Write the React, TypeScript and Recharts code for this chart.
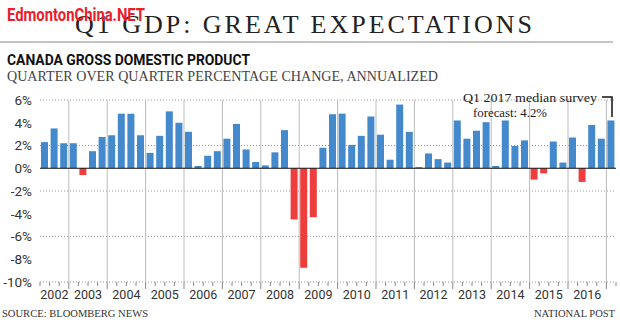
import React from 'react';
import { BarChart, Bar, XAxis, YAxis, CartesianGrid, ReferenceLine, Cell } from 'recharts';

// quarters shown, 2002 Q2 .. 2017 Q1
const years = [2002, 2003, 2004, 2005, 2006, 2007, 2008, 2009, 2010, 2011, 2012, 2013, 2014, 2015, 2016, 2017];
const quartersPerYear = [[2, 3, 4], [1, 2, 3, 4], [1, 2, 3, 4], [1, 2, 3, 4], [1, 2, 3, 4], [1, 2, 3, 4], [1, 2, 3, 4], [1, 2, 3, 4],
  [1, 2, 3, 4], [1, 2, 3, 4], [1, 2, 3, 4], [1, 2, 3, 4], [1, 2, 3, 4], [1, 2, 3, 4], [1, 2, 3, 4], [1]];

// annualized q/q % change
const gdpChange = [
  2.3, 3.5, 2.2,
  2.2, -0.6, 1.5, 2.75,
  2.9, 4.8, 4.8, 2.9,
  1.35, 2.85, 5.0, 4.0,
  3.2, 0.2, 1.1, 1.5,
  2.6, 3.9, 1.65, 0.55,
  0.25, 1.4, 3.35, -4.5,
  -8.75, -4.3, 1.8, 4.75,
  4.8, 2.05, 2.85, 4.55,
  2.95, 0.75, 5.6, 3.2,
  0.1, 1.3, 0.8, 0.5,
  4.2, 2.6, 3.3, 4.05,
  0.2, 4.2, 1.95, 2.45,
  -1.0, -0.45, 2.35, 0.5,
  2.7, -1.2, 3.8, 2.6,
  4.2,
];

const yTicks = [-10, -8, -6, -4, -2, 0, 2, 4, 6];

const data: { label: string; year: number; q: number; value: number }[] = [];
years.forEach((y, yi) => {
  quartersPerYear[yi].forEach((q) => {
    data.push({ label: `${y} Q${q}`, year: y, q, value: gdpChange[data.length] });
  });
});

const W = 620;
const H = 327;
const LEFT = 40;
const RIGHT = 4;
const PLOT_W = W - LEFT - RIGHT;
const BAND = PLOT_W / data.length;
const BLUE = '#4389cc';
const RED = '#ee3d3d';
const SANS = '"Liberation Sans Narrow", Roboto, "Liberation Sans", sans-serif';
const SERIF = '"Liberation Serif", "DejaVu Serif", serif';

const YearTick = (props: any) => {
  const { x, y, payload } = props;
  const i = payload.index;
  const d = data[i];
  const left = x - BAND / 2;
  const count = data.filter((e) => e.year === d.year).length;
  const first = data.findIndex((e) => e.year === d.year) === i;
  return (
    <g>
      <line x1={left} x2={left} y1={y} y2={y + (d.q === 1 ? 7 : 4)} stroke="#888" strokeWidth={1} />
      {i === data.length - 1 && <line x1={x + BAND / 2} x2={x + BAND / 2} y1={y} y2={y + 4} stroke="#888" />}
      {first && count > 1 && (
        <text x={x + ((count - 1) / 2) * BAND} y={y + 17} textAnchor="middle" fontSize={12.5} fill="#333" fontFamily={SANS}>
          {d.year}
        </text>
      )}
    </g>
  );
};

const yearLines = ({ offset }: any) => {
  const out: number[] = [];
  data.forEach((d, i) => {
    if (i > 0 && d.q === 1) out.push(offset.left + (i * offset.width) / data.length);
  });
  return out;
};

const App: React.FC = () => {
  return (
    <div style={{ position: 'fixed', left: 0, top: 0, width: W, height: H, background: '#fff' }}>
      <BarChart width={W} height={H} data={data} margin={{ top: 100, right: RIGHT, bottom: 0, left: 0 }} barSize={7}>
        <CartesianGrid vertical={false} stroke="#999" strokeDasharray="1 2" />
        <CartesianGrid horizontal={false} stroke="#bbb" verticalCoordinatesGenerator={yearLines} />
        <XAxis dataKey="label" interval={0} height={45} tickSize={0} tickMargin={0} axisLine={false} tickLine={false} tick={<YearTick />} />
        <YAxis
          domain={[-10, 6]}
          ticks={yTicks}
          width={LEFT}
          axisLine={false}
          tickLine={false}
          tickSize={0}
          tickMargin={8}
          tickFormatter={(v: number) => `${v}%`}
          tick={{ fontSize: 13.5, fill: '#333', fontFamily: SANS }}
        />
        <Bar dataKey="value" isAnimationActive={false}>
          {data.map((d, i) => (
            <Cell key={i} fill={d.value < 0 ? RED : BLUE} />
          ))}
        </Bar>
        <ReferenceLine y={0} stroke="#111" strokeWidth={1.2} />
      </BarChart>
      <svg width={W} height={H} style={{ position: 'absolute', left: 0, top: 0, pointerEvents: 'none' }}>
        <text x={75} y={33} fontSize={26} fill="#222" fontFamily={SERIF} textLength={457} lengthAdjust="spacing">
          Q1 GDP: GREAT EXPECTATIONS
        </text>
        <text x={7} y={21} fontSize={18} fontWeight="bold" fill="#e8202a" fontFamily={SANS} textLength={138} lengthAdjust="spacingAndGlyphs">
          EdmontonChina.NET
        </text>
        <line x1={0} x2={613} y1={42} y2={42} stroke="#888" strokeWidth={1} />
        <text x={7} y={64.5} fontSize={15.5} fontWeight="bold" fill="#111" fontFamily={SANS} textLength={243} lengthAdjust="spacingAndGlyphs">
          CANADA GROSS DOMESTIC PRODUCT
        </text>
        <text x={7} y={80.5} fontSize={14} fill="#444" fontFamily={SERIF} textLength={431} lengthAdjust="spacingAndGlyphs">
          QUARTER OVER QUARTER PERCENTAGE CHANGE, ANNUALIZED
        </text>
        <text x={463} y={102} fontSize={13.5} fill="#222" fontFamily={SERIF} textLength={134} lengthAdjust="spacingAndGlyphs">
          Q1 2017 median survey
        </text>
        <text x={473} y={117} fontSize={13.5} fill="#222" fontFamily={SERIF} textLength={74} lengthAdjust="spacingAndGlyphs">
          forecast: 4.2%
        </text>
        <polyline points="602,97 612,97 612,117" fill="none" stroke="#111" strokeWidth={1.5} />
        <text x={2} y={317} fontSize={10.5} fill="#333" fontFamily={SERIF} textLength={146} lengthAdjust="spacingAndGlyphs">
          SOURCE: BLOOMBERG NEWS
        </text>
        <text x={534} y={317} fontSize={10.5} fill="#333" fontFamily={SERIF} textLength={81} lengthAdjust="spacingAndGlyphs">
          NATIONAL POST
        </text>
      </svg>
    </div>
  );
};

export default App;
